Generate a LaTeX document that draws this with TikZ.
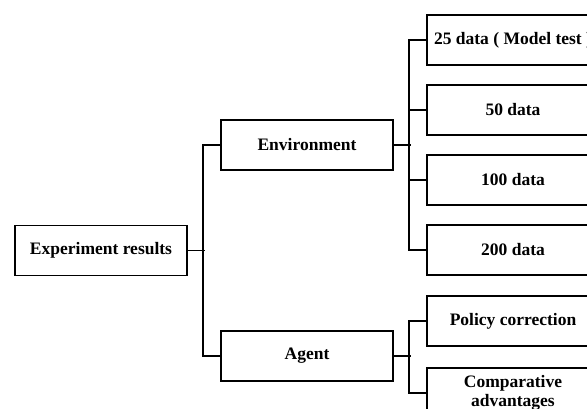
\documentclass[tikz,border=0pt]{standalone}
\usepackage{fontspec}
\setmainfont{Liberation Serif}
\begin{document}
\begin{tikzpicture}[x=1pt,y=-1pt,
  box/.style={draw=black, line width=1.9pt, fill=white, minimum width=172pt, minimum height=50pt,
    inner sep=2pt, align=center, font=\bfseries\fontsize{17.5}{18.5}\selectfont},
  conn/.style={draw=black, line width=1.9pt}]
\useasboundingbox (0,0) rectangle (587,408);
\clip (0,0) rectangle (587,408);
\node[box] (exp) at (101,250.5) {Experiment results};
\node[box] (env) at (307,145) {Environment};
\node[box] (agent) at (307,356) {Agent};
\node[box] (d25) at (513,40) {25 data ( Model test )};
\node[box] (d50) at (513,110) {50 data};
\node[box] (d100) at (513,180) {100 data};
\node[box] (d200) at (513,250) {200 data};
\node[box] (pol) at (513,321) {Policy correction};
\node[box] (comp) at (513,393) {Comparative\\advantages};
% connectors
\draw[conn] (exp.east) -- ++(17,0) coordinate (j1);
\draw[conn] (env.west) -- ++(-17,0) |- (agent.west);
\draw[conn] (env.east) -- ++(17,0) coordinate (j2);
\draw[conn] (d25.west) -- ++(-17,0) |- (d200.west);
\draw[conn] (d50.west) -- ++(-17,0);
\draw[conn] (d100.west) -- ++(-17,0);
\draw[conn] (agent.east) -- ++(17,0) coordinate (j3);
\draw[conn] (pol.west) -- ++(-17,0) |- (comp.west);
\end{tikzpicture}
\end{document}
